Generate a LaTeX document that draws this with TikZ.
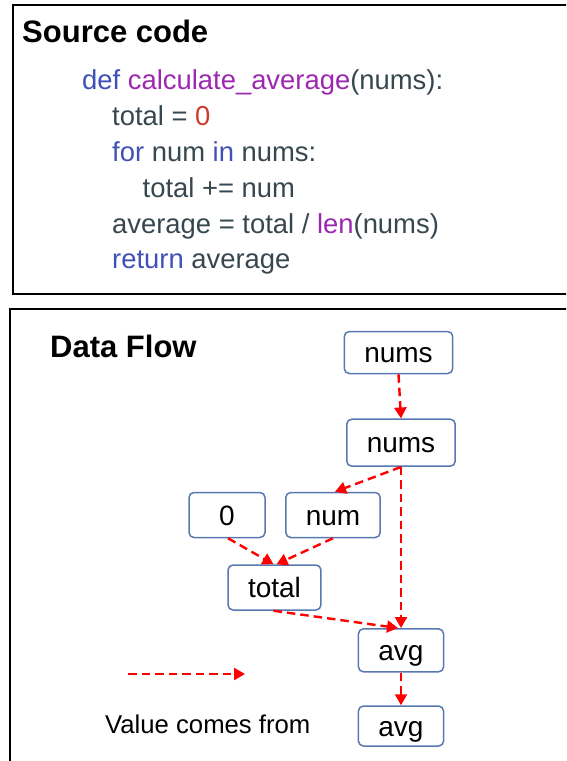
\documentclass[tikz,border=0pt]{standalone}
\usepackage{fontspec}
\setmainfont{Liberation Sans}
\usetikzlibrary{arrows.meta}

\definecolor{kwblue}{RGB}{63,81,181}
\definecolor{fnpurple}{RGB}{156,39,176}
\definecolor{numred}{RGB}{205,58,42}
\definecolor{codegray}{RGB}{55,71,79}
\definecolor{boxblue}{RGB}{88,120,176}

\begin{document}
\begin{tikzpicture}[x=1pt, y=-1pt,
  frame/.style={draw=black, line width=2pt},
  title/.style={anchor=base west, inner sep=0pt, font=\fontsize{31}{34}\selectfont\bfseries},
  codeline/.style={anchor=base west, inner sep=0pt, text=codegray, font=\fontsize{27.4}{30}\selectfont},
  flowbox/.style={rectangle, rounded corners=5pt, draw=boxblue, line width=1.5pt, inner xsep=20pt, text height=20pt, text depth=0pt, minimum height=44pt, minimum width=76pt, font=\fontsize{28}{30}\selectfont},
  flow/.style={red, line width=2.4pt, dash pattern=on 8.5pt off 5pt, -{Triangle[length=11pt, width=12pt]}}]
  \clip (0,0) rectangle (566,761);

  % source code panel
  \draw[frame] (13,4.5) rectangle (600,293.5);
  \node (srctitle) [title] at (22,42) {Source code};
  \node (c1) [codeline] at (82,89) {\textcolor{kwblue}{def} \textcolor{fnpurple}{calculate\_average}(nums):};
  \node (c2) [codeline] at (112,125) {total = \textcolor{numred}{0}};
  \node (c3) [codeline] at (112,161) {\textcolor{kwblue}{for} num \textcolor{kwblue}{in} nums:};
  \node (c4) [codeline] at (142.5,197) {total += num};
  \node (c5) [codeline] at (112,233) {average = total / \textcolor{fnpurple}{len}(nums)};
  \node (c6) [codeline] at (112,268) {\textcolor{kwblue}{return} average};

  % data flow panel
  \draw[frame] (9.5,309) rectangle (600,800);
  \node (dftitle) [title] at (50,357) {Data Flow};

  \node (nums1) [flowbox, minimum height=42pt] at (398.5,352.5) {nums};
  \node (nums2) [flowbox, minimum height=47pt] at (401,442.7) {nums};
  \node (zero) [flowbox, minimum height=45pt] at (227,515) {0};
  \node (num) [flowbox, minimum height=45pt] at (333,515) {num};
  \node (total) [flowbox, minimum height=45pt] at (274.5,587.5) {total};
  \node (avg1) [flowbox, minimum height=43pt] at (401,650.3) {avg};
  \node (avg2) [flowbox, minimum height=40pt] at (401,726) {avg};

  \path [flow]
  (nums1.south) edge (nums2.north)
  (nums2.south) edge ([xshift=2pt]num.north)
  (nums2.south) edge (avg1.north)
  ([xshift=1pt]zero.south) edge ([xshift=-1pt]total.north)
  (num.south) edge ([xshift=2pt]total.north)
  ([xshift=-1pt]total.south) edge ([xshift=-3pt]avg1.north)
  (avg1.south) edge (avg2.north);

  % legend
  \coordinate (leg1) at (128,674);
  \coordinate (leg2) at (245,674);
  \draw [flow] (leg1) -- (leg2);
  \node (legtext) [anchor=base west, inner sep=0pt, font=\fontsize{25.7}{28}\selectfont] at (105,733) {Value comes from};
\end{tikzpicture}
\end{document}
